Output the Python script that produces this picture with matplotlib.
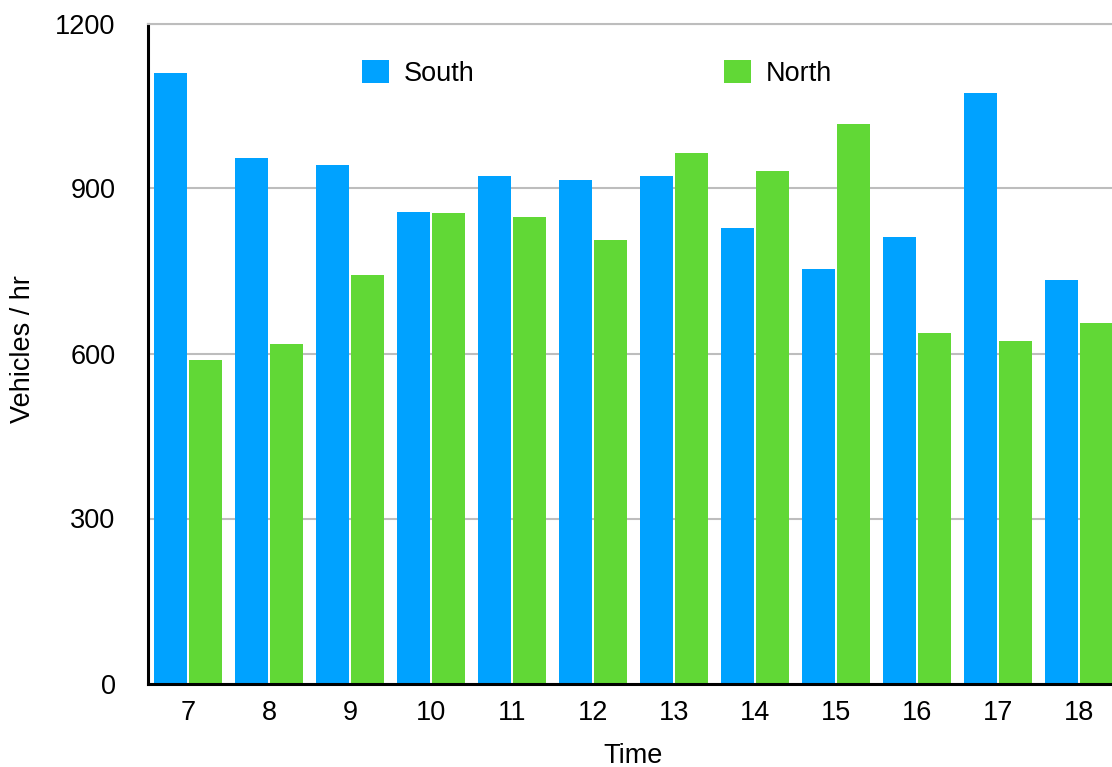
import numpy as np
import matplotlib
matplotlib.use('Agg')
import matplotlib.pyplot as plt

# hourly traffic counts
hours = ['7', '8', '9', '10', '11', '12', '13', '14', '15', '16', '17', '18']
south = [1110, 956, 942, 858, 922, 916, 922, 829, 753, 811, 1074, 733]
north = [588, 617, 742, 855, 849, 806, 965, 931, 1018, 637, 622, 655]
y_ticks = [0, 300, 600, 900, 1200]

blue = '#00A2FF'
green = '#61D836'
grid_grey = '#BDBDBD'

plt.rcParams['font.family'] = ['Liberation Sans', 'DejaVu Sans']
plt.rcParams['font.size'] = 19

fig = plt.figure(figsize=(11.12, 7.67), dpi=100)
# axes runs a bit past the right edge, as in the original
ax = fig.add_axes([147.5 / 1112, 83.5 / 767, 972 / 1112, 660 / 767])

x = np.arange(len(hours))
bar_w = 0.405
ax.bar(x - 0.215, south, width=bar_w, color=blue, linewidth=0, label='South', zorder=2)
ax.bar(x + 0.215, north, width=bar_w, color=green, linewidth=0, label='North', zorder=2)

ax.set_xlim(-0.5, len(hours) - 0.5)
ax.set_ylim(0, 1200)
ax.set_xticks(x)
ax.set_xticklabels(hours)
ax.set_yticks(y_ticks)
ax.tick_params(axis='both', length=0, labelsize=19.5)
ax.tick_params(axis='x', pad=12)
ax.tick_params(axis='y', pad=23)

ax.set_axisbelow(True)
ax.yaxis.grid(True, color=grid_grey, linewidth=1.5)
ax.xaxis.grid(False)

ax.spines['right'].set_visible(False)
ax.spines['top'].set_color(grid_grey)
ax.spines['top'].set_linewidth(1.5)
ax.spines['left'].set_color('black')
ax.spines['left'].set_linewidth(2.2)
ax.spines['bottom'].set_color('black')
ax.spines['bottom'].set_linewidth(2.2)

fig.text(633 / 1112, 1 - 763 / 767, 'Time', ha='center', va='baseline', fontsize=19.5)
fig.text(23 / 1112, 1 - 349 / 767, 'Vehicles / hr', rotation=90,
         ha='center', va='center', fontsize=19.5)

ax.legend(loc='center left', bbox_to_anchor=(362 / 1112, 1 - 73.5 / 767),
          bbox_transform=fig.transFigure, ncol=2, frameon=False,
          borderpad=0, borderaxespad=0, handlelength=1.0, handleheight=0.93,
          handletextpad=0.55, columnspacing=9.2, fontsize=19.5)

fig.savefig('out.png', dpi=100)
